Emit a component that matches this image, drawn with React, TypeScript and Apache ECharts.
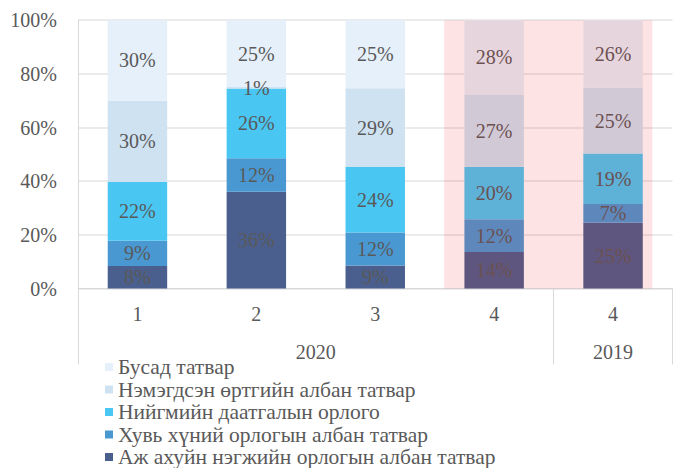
import React, { useEffect, useRef } from "react";
import * as echarts from "echarts";

const categories = ["1", "2", "3", "4", "4"];
const groups = ["2020", "2019"];
const groupSizes = [4, 1];

const seriesNames = [
  "Аж ахуйн нэгжийн орлогын албан татвар",
  "Хувь хүний орлогын албан татвар",
  "Нийгмийн даатгалын орлого",
  "Нэмэгдсэн өртгийн албан татвар",
  "Бусад татвар",
];
const corporate = [8.4, 36.1, 8.6, 13.6, 24.5];
const personal = [9.4, 12.4, 12.3, 12.2, 7.0];
const social = [22.0, 26.0, 24.4, 19.6, 18.8];
const vat = [30.2, 0.6, 29.3, 26.9, 24.5];
const other = [30.0, 24.9, 25.4, 27.7, 25.5];
const seriesValues = [corporate, personal, social, vat, other];
const colors = ["#4a5f8e", "#4a98d2", "#4ac6f2", "#cfe2f2", "#e6f0fa"];

const yTicks = [0, 20, 40, 60, 80, 100];
const highlightRange = [3.08, 4.83];

const FONT = "Liberation Serif";
const TEXT = "#595959";
const LINE = "#d9d9d9";

export default function App() {
  const ref = useRef<HTMLDivElement>(null);

  useEffect(() => {
    if (!ref.current) return;
    const chart = echarts.init(ref.current, undefined, { renderer: "svg" });

    const bounds: number[] = [0];
    const centers: number[] = [];
    groupSizes.forEach((s, i) => {
      centers.push(bounds[i] + s / 2);
      bounds.push(bounds[i] + s);
    });

    const barSeries = seriesNames.map((name, i) => ({
      name,
      type: "bar",
      stack: "total",
      xAxisIndex: 0,
      yAxisIndex: 0,
      barWidth: "50%",
      itemStyle: { color: colors[i] },
      label: {
        show: true,
        position: "inside",
        formatter: (p: any) => Math.round(p.value) + "%",
        color: TEXT,
        fontFamily: FONT,
        fontSize: 20,
      },
      data: seriesValues[i],
      z: 2,
    }));

    chart.setOption({
      animation: false,
      textStyle: { fontFamily: FONT },
      grid: { left: 78, right: 2.5, top: 20.2, bottom: 179.5 },
      legend: {
        orient: "vertical",
        left: 105,
        top: 356,
        padding: 0,
        itemWidth: 8,
        itemHeight: 8,
        itemGap: 0.5,
        icon: "rect",
        data: [...seriesNames].reverse(),
        textStyle: { color: TEXT, fontFamily: FONT, fontSize: 21.5, lineHeight: 21.5 },
      },
      xAxis: [
        {
          type: "category",
          data: categories,
          position: "bottom",
          axisLine: { show: true, lineStyle: { color: LINE, width: 1 } },
          axisTick: { show: false },
          axisLabel: { color: TEXT, fontFamily: FONT, fontSize: 20, margin: 15 },
          splitLine: { show: false },
        },
        {
          type: "value",
          min: 0,
          max: bounds[bounds.length - 1],
          position: "bottom",
          axisLine: { show: false },
          splitLine: { show: false },
          axisTick: {
            show: true,
            customValues: bounds,
            length: 76,
            lineStyle: { color: LINE, width: 1 },
          },
          axisLabel: {
            show: true,
            customValues: centers,
            formatter: (v: number) => {
              const idx = centers.findIndex((c) => Math.abs(c - v) < 1e-6);
              return idx >= 0 ? groups[idx] : "";
            },
            color: TEXT,
            fontFamily: FONT,
            fontSize: 20,
            margin: 53,
          },
        },
      ],
      yAxis: {
        type: "value",
        min: 0,
        max: 100,
        interval: 20,
        axisLine: { show: true, lineStyle: { color: LINE, width: 1 } },
        axisTick: { show: false },
        axisLabel: {
          color: TEXT,
          fontFamily: FONT,
          fontSize: 20,
          margin: 21,
          formatter: (v: number) => (yTicks.includes(v) ? v + "%" : ""),
        },
        splitLine: { show: true, lineStyle: { color: "#ebebeb", width: 2 } },
      },
      series: [
        ...barSeries,
        {
          name: "highlight",
          type: "line",
          xAxisIndex: 1,
          yAxisIndex: 0,
          data: [],
          clip: false,
          silent: true,
          z: 10,
          markArea: {
            silent: true,
            z: 10,
            itemStyle: { color: "rgba(238,22,22,0.12)" },
            data: [
              [
                { xAxis: highlightRange[0], yAxis: -1 },
                { xAxis: highlightRange[1], yAxis: 100.7 },
              ],
            ],
          },
        },
      ],
    });

    return () => chart.dispose();
  }, []);

  return (
    <div
      ref={ref}
      style={{ position: "fixed", left: 0, top: 0, width: 675, height: 468, background: "#fff" }}
    />
  );
}
